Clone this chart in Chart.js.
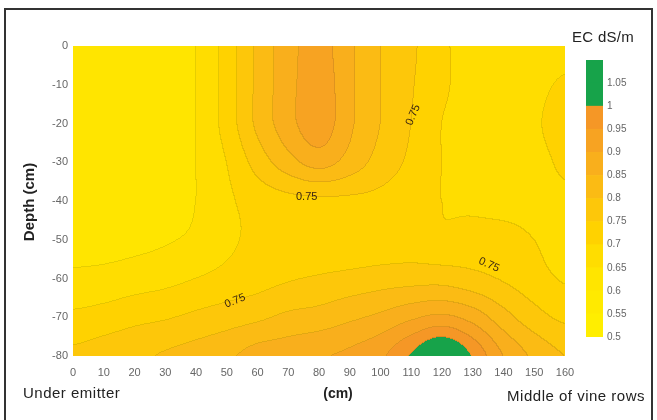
<!DOCTYPE html>
<html>
<head>
<meta charset="utf-8">
<script src="https://cdn.jsdelivr.net/npm/chart.js@4.4.0/dist/chart.umd.min.js"></script>
<style>
body { margin: 0; background: #fff; }
#wrap { position: relative; width: 657px; height: 420px; overflow: hidden; background: #fff; }
#frame { position: absolute; left: 4px; top: 8px; width: 645px; height: 420px; border: 2px solid #333; border-bottom: none; }
#main { position: absolute; left: 0; top: 0; }
#bar { position: absolute; left: 570px; top: 40px; }
</style>
</head>
<body>
<div id="wrap">
  <div id="frame"></div>
  <canvas id="main" width="657" height="420"></canvas>
  <canvas id="bar" width="87" height="310"></canvas>
</div>
<script>
// distance from emitter (cm) and depth (cm)
const xCm = [0, 10, 20, 30, 40, 50, 60, 70, 80, 90, 100, 110, 120, 130, 140, 150, 160];
const depthCm = [0, -10, -20, -30, -40, -50, -60, -70, -80];

// EC (dS/m), one row per depth
const ecAt0  = [0.61, 0.61, 0.62, 0.63, 0.65, 0.72, 0.81, 0.88, 0.92, 0.86, 0.80, 0.76, 0.71, 0.68, 0.66, 0.66, 0.67];
const ecAt10 = [0.61, 0.61, 0.61, 0.63, 0.65, 0.72, 0.81, 0.88, 0.93, 0.86, 0.80, 0.755, 0.71, 0.68, 0.67, 0.68, 0.71];
const ecAt20 = [0.62, 0.61, 0.61, 0.63, 0.65, 0.72, 0.81, 0.88, 0.93, 0.86, 0.80, 0.75, 0.70, 0.68, 0.67, 0.69, 0.73];
const ecAt30 = [0.63, 0.61, 0.61, 0.62, 0.65, 0.70, 0.77, 0.83, 0.87, 0.83, 0.78, 0.74, 0.70, 0.68, 0.67, 0.68, 0.71];
const ecAt40 = [0.62, 0.62, 0.62, 0.63, 0.65, 0.69, 0.72, 0.735, 0.74, 0.74, 0.735, 0.72, 0.70, 0.69, 0.68, 0.68, 0.69];
const ecAt50 = [0.63, 0.63, 0.635, 0.645, 0.66, 0.69, 0.71, 0.715, 0.71, 0.71, 0.715, 0.72, 0.71, 0.72, 0.72, 0.70, 0.68];
const ecAt60 = [0.66, 0.665, 0.675, 0.685, 0.70, 0.715, 0.73, 0.745, 0.755, 0.765, 0.775, 0.78, 0.78, 0.765, 0.745, 0.72, 0.695];
const ecAt70 = [0.71, 0.72, 0.735, 0.745, 0.76, 0.775, 0.79, 0.81, 0.82, 0.84, 0.86, 0.89, 0.91, 0.88, 0.82, 0.77, 0.74];
const ecAt80 = [0.76, 0.775, 0.79, 0.805, 0.82, 0.84, 0.87, 0.88, 0.895, 0.91, 0.94, 1.005, 1.07, 0.995, 0.90, 0.84, 0.80];
const ecGrid = [ecAt0, ecAt10, ecAt20, ecAt30, ecAt40, ecAt50, ecAt60, ecAt70, ecAt80];

// colour classes of the legend
const ecLevels = [0.5, 0.55, 0.6, 0.65, 0.7, 0.75, 0.8, 0.85, 0.9, 0.95, 1.0, 1.05, 1.1];
const bandColors = ['#FFEE00', '#FFEA00', '#FFE500', '#FFDD00', '#FFD200', '#FDC70A',
                    '#FBBB14', '#F9AF1C', '#F7A322', '#F59726', '#17A34A', '#17A34A'];

// labelled contour lines
const contourText = ['0.75', '0.75', '0.75', '0.75'];
const contourX = [76, 110.6, 52.7, 135.3];
const contourY = [-39, -17.8, -65.8, -56.5];
const contourAngle = [0, -67, -22, 24];

const tickFont = "'Liberation Sans Narrow', 'Liberation Sans', Arial, sans-serif";
const textFont = "'Liberation Sans', Arial, sans-serif";

function cubic(p0, p1, p2, p3, t) {
    return 0.5 * (2 * p1 + (p2 - p0) * t +
        (2 * p0 - 5 * p1 + 4 * p2 - p3) * t * t +
        (3 * p1 - p0 - 3 * p2 + p3) * t * t * t);
}

// smooth lookup between the grid nodes (Catmull-Rom in both directions)
function ecAt(x, d) {
    const nx = xCm.length, nd = depthCm.length;
    const sx = xCm[1] - xCm[0], sd = depthCm[1] - depthCm[0];
    let fi = Math.min(Math.max((x - xCm[0]) / sx, 0), nx - 1);
    let fj = Math.min(Math.max((d - depthCm[0]) / sd, 0), nd - 1);
    const i = Math.min(Math.floor(fi), nx - 2);
    const j = Math.min(Math.floor(fj), nd - 2);
    const u = fi - i, v = fj - j;
    const ci = k => Math.min(Math.max(k, 0), nx - 1);
    const cj = k => Math.min(Math.max(k, 0), nd - 1);
    const rows = [];
    for (let m = -1; m <= 2; m++) {
        const r = ecGrid[cj(j + m)];
        rows.push(cubic(r[ci(i - 1)], r[i], r[i + 1], r[ci(i + 2)], u));
    }
    return cubic(rows[0], rows[1], rows[2], rows[3], v);
}

function bandOf(v) {
    for (let k = bandColors.length - 1; k >= 0; k--) {
        if (v >= ecLevels[k]) return k;
    }
    return 0;
}

function hexRgb(h) {
    return [parseInt(h.slice(1, 3), 16), parseInt(h.slice(3, 5), 16), parseInt(h.slice(5, 7), 16)];
}

let fieldImage = null;

const fieldPlugin = {
    id: 'ecField',
    beforeDatasetsDraw(chart) {
        const ctx = chart.ctx;
        const area = chart.chartArea;
        const xs = chart.scales.x, ys = chart.scales.y;
        const w = Math.round(area.right - area.left);
        const h = Math.round(area.bottom - area.top);

        if (!fieldImage) {
            const rgb = bandColors.map(hexRgb);
            const band = new Int16Array(w * h);
            for (let py = 0; py < h; py++) {
                const d = ys.getValueForPixel(area.top + py + 0.5);
                for (let px = 0; px < w; px++) {
                    const x = xs.getValueForPixel(area.left + px + 0.5);
                    band[py * w + px] = bandOf(ecAt(x, d));
                }
            }
            const off = document.createElement('canvas');
            off.width = w;
            off.height = h;
            const octx = off.getContext('2d');
            const img = octx.createImageData(w, h);
            for (let py = 0; py < h; py++) {
                for (let px = 0; px < w; px++) {
                    const k = band[py * w + px];
                    let edge = false;
                    if (px < w - 1 && band[py * w + px + 1] !== k) edge = true;
                    if (py < h - 1 && band[(py + 1) * w + px] !== k) edge = true;
                    const f = edge && k < 10 ? 0.9 : 1;
                    const o = (py * w + px) * 4;
                    img.data[o] = rgb[k][0] * f;
                    img.data[o + 1] = rgb[k][1] * f;
                    img.data[o + 2] = rgb[k][2] * f;
                    img.data[o + 3] = 255;
                }
            }
            octx.putImageData(img, 0, 0);
            fieldImage = off;
        }
        ctx.drawImage(fieldImage, area.left, area.top);
    },
    afterDatasetsDraw(chart) {
        const ctx = chart.ctx;
        const xs = chart.scales.x, ys = chart.scales.y;
        ctx.save();
        ctx.fillStyle = '#3a2510';
        ctx.font = '11px ' + tickFont;
        ctx.textAlign = 'center';
        ctx.textBaseline = 'middle';
        contourText.forEach((t, i) => {
            ctx.save();
            ctx.translate(xs.getPixelForValue(contourX[i]), ys.getPixelForValue(contourY[i]));
            ctx.rotate(contourAngle[i] * Math.PI / 180);
            ctx.fillText(t, 0, 0);
            ctx.restore();
        });
        ctx.restore();
    },
    afterDraw(chart) {
        const ctx = chart.ctx;
        ctx.save();
        ctx.fillStyle = '#222';
        ctx.textBaseline = 'middle';

        ctx.save();
        ctx.translate(30, 202);
        ctx.rotate(-Math.PI / 2);
        ctx.textAlign = 'center';
        ctx.font = 'bold 15px ' + textFont;
        ctx.fillText('Depth (cm)', 0, 0);
        ctx.restore();

        ctx.font = 'bold 14px ' + textFont;
        ctx.textAlign = 'center';
        ctx.fillText('(cm)', 338, 394);

        ctx.font = '15px ' + textFont;
        ctx.letterSpacing = '0.5px';
        ctx.textAlign = 'left';
        ctx.fillText('Under emitter', 23, 394);
        ctx.textAlign = 'right';
        ctx.fillText('Middle of vine rows', 645, 397);

        ctx.letterSpacing = '0.3px';
        ctx.textAlign = 'left';
        ctx.fillText('EC dS/m', 572, 38);
        ctx.restore();
    }
};

const gridPoints = [];
depthCm.forEach(d => xCm.forEach(x => gridPoints.push({ x: x, y: d })));

new Chart(document.getElementById('main'), {
    type: 'scatter',
    data: {
        datasets: [{
            data: gridPoints,
            pointRadius: 0,
            pointHoverRadius: 0
        }]
    },
    options: {
        responsive: false,
        animation: false,
        layout: { padding: { top: 46, right: 92, left: 0, bottom: 0 } },
        plugins: { legend: { display: false }, tooltip: { enabled: false } },
        scales: {
            x: {
                type: 'linear',
                min: 0,
                max: 160,
                grid: { display: false, drawTicks: false },
                border: { display: false },
                ticks: { stepSize: 10, padding: 10, color: '#666', font: { size: 11, family: tickFont } },
                afterFit: s => { s.height = 64; }
            },
            y: {
                type: 'linear',
                min: -80,
                max: 0,
                grid: { display: false, drawTicks: false },
                border: { display: false },
                ticks: { stepSize: 10, padding: 5, color: '#666', font: { size: 11, family: tickFont } },
                afterFit: s => { s.width = 73; }
            }
        }
    },
    plugins: [fieldPlugin]
});

// colour bar
const barSets = bandColors.map((c, k) => ({
    data: [[ecLevels[k], ecLevels[k + 1]]],
    backgroundColor: c,
    borderWidth: 0,
    grouped: false,
    barPercentage: 1,
    categoryPercentage: 1
}));

new Chart(document.getElementById('bar'), {
    type: 'bar',
    data: { labels: ['EC'], datasets: barSets },
    options: {
        responsive: false,
        animation: false,
        layout: { padding: { top: 20, bottom: 13, left: 16, right: 0 } },
        plugins: { legend: { display: false }, tooltip: { enabled: false } },
        scales: {
            x: { display: false },
            y: {
                position: 'right',
                min: 0.5,
                max: 1.1,
                grid: { display: false, drawTicks: false },
                border: { display: false },
                ticks: {
                    stepSize: 0.05,
                    padding: 4,
                    color: '#666',
                    font: { size: 10, family: tickFont },
                    callback: v => (v > 1.075 ? '' : String(+v.toFixed(2)))
                },
                afterFit: s => { s.width = 54; }
            }
        }
    }
});
</script>
</body>
</html>
